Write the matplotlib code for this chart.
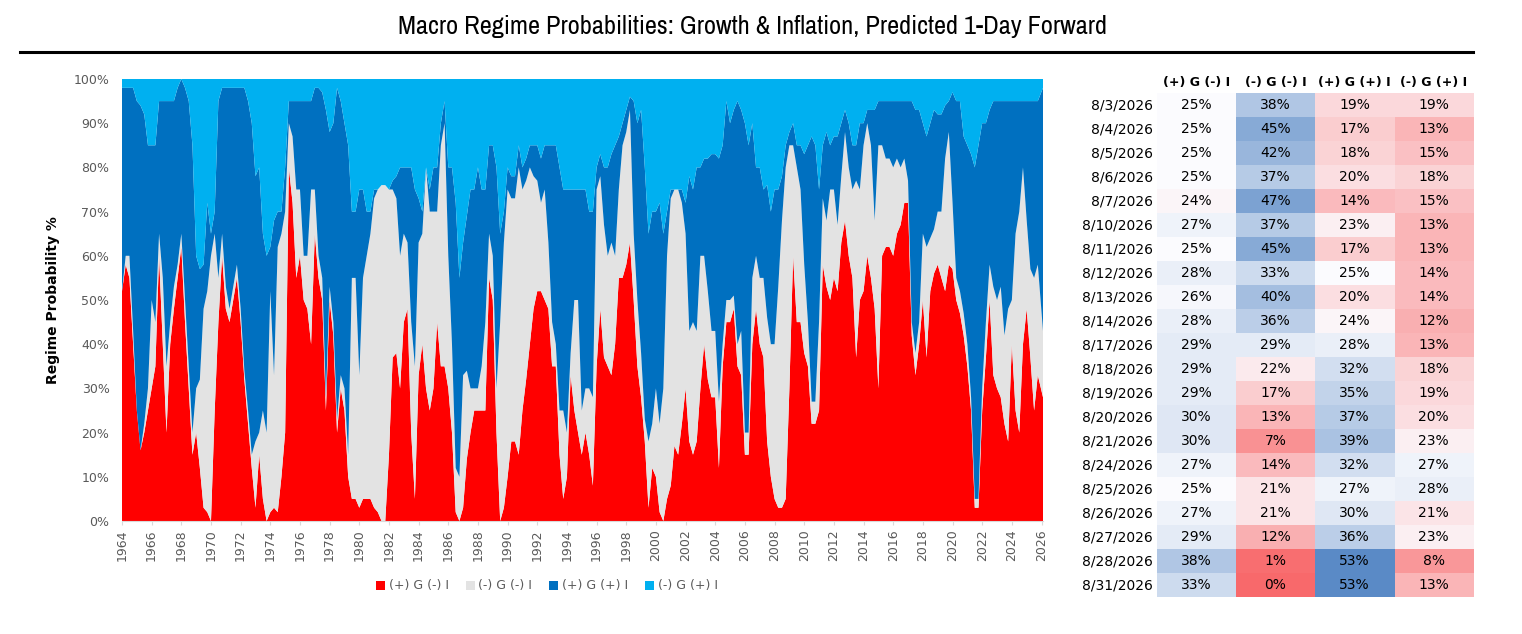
import numpy as np
import matplotlib
matplotlib.use('Agg')
import matplotlib.pyplot as plt
from matplotlib import font_manager
from matplotlib.colors import LinearSegmentedColormap, TwoSlopeNorm
from matplotlib.patches import Patch
from matplotlib.lines import Line2D

# regimes (stack order, bottom -> top)
regimes = ['(+) G (-) I', '(-) G (-) I', '(+) G (+) I', '(-) G (+) I']
regime_colors = ['#FF0000', '#E3E3E3', '#0070C0', '#00B0F0']

# quarterly readings of the regime probabilities (%), 1964Q1 .. 2025Q4 + last point
pos_g_neg_i = [
    52, 58, 55, 40,  # 1964
    25, 16, 20, 25,  # 1965
    30, 35, 60, 40,  # 1966
    20, 40, 48, 55,  # 1967
    62, 45, 30, 15,  # 1968
    20, 12, 3, 2,    # 1969
    0, 25, 45, 60,   # 1970
    48, 45, 50, 55,  # 1971
    45, 32, 22, 12,  # 1972
    3, 15, 5, 0,     # 1973
    2, 3, 2, 10,     # 1974
    20, 80, 72, 55,  # 1975
    60, 50, 48, 40,  # 1976
    65, 55, 50, 25,  # 1977
    50, 42, 20, 30,  # 1978
    25, 10, 5, 5,    # 1979
    3, 5, 5, 5,      # 1980
    3, 2, 0, 0,      # 1981
    15, 37, 38, 30,  # 1982
    45, 48, 20, 5,   # 1983
    33, 40, 30, 25,  # 1984
    30, 45, 35, 35,  # 1985
    30, 20, 2, 0,    # 1986
    3, 14, 20, 25,   # 1987
    25, 25, 25, 55,  # 1988
    50, 20, 0, 3,    # 1989
    10, 18, 18, 15,  # 1990
    25, 32, 40, 48,  # 1991
    52, 52, 50, 48,  # 1992
    35, 35, 15, 5,   # 1993
    10, 33, 25, 20,  # 1994
    15, 20, 15, 8,   # 1995
    35, 48, 37, 35,  # 1996
    33, 40, 55, 55,  # 1997
    58, 63, 50, 35,  # 1998
    28, 18, 3, 12,   # 1999
    10, 2, 0, 5,     # 2000
    8, 17, 15, 22,   # 2001
    30, 18, 15, 18,  # 2002
    30, 40, 32, 28,  # 2003
    28, 12, 35, 45,  # 2004
    45, 48, 35, 33,  # 2005
    15, 15, 40, 48,  # 2006
    40, 37, 18, 10,  # 2007
    5, 3, 3, 5,      # 2008
    30, 60, 45, 45,  # 2009
    38, 35, 22, 22,  # 2010
    25, 58, 53, 50,  # 2011
    55, 52, 63, 68,  # 2012
    60, 55, 37, 50,  # 2013
    52, 60, 55, 48,  # 2014
    30, 60, 62, 62,  # 2015
    60, 65, 67, 72,  # 2016
    72, 42, 33, 40,  # 2017
    50, 37, 52, 56,  # 2018
    58, 55, 52, 58,  # 2019
    57, 50, 47, 42,  # 2020
    35, 25, 3, 3,    # 2021
    25, 37, 50, 33,  # 2022
    30, 28, 22, 18,  # 2023
    40, 25, 20, 40,  # 2024
    48, 37, 25, 33,  # 2025
    28,              # 2026
]

neg_g_neg_i = [
    0, 2, 5, 3,      # 1964
    0, 0, 2, 5,      # 1965
    20, 10, 5, 15,   # 1966
    15, 5, 5, 3,     # 1967
    3, 5, 5, 5,      # 1968
    10, 20, 45, 50,  # 1969
    60, 40, 10, 5,   # 1970
    5, 3, 3, 3,      # 1971
    3, 2, 3, 3,      # 1972
    15, 5, 20, 20,   # 1973
    50, 30, 60, 55,  # 1974
    50, 10, 15, 20,  # 1975
    15, 10, 12, 35,  # 1976
    10, 5, 5, 3,     # 1977
    3, 3, 3, 3,      # 1978
    5, 5, 50, 50,    # 1979
    30, 50, 55, 60,  # 1980
    70, 73, 76, 76,  # 1981
    60, 38, 35, 30,  # 1982
    20, 15, 25, 30,  # 1983
    30, 25, 50, 45,  # 1984
    40, 25, 50, 55,  # 1985
    30, 20, 10, 10,  # 1986
    30, 20, 10, 5,   # 1987
    5, 10, 20, 10,   # 1988
    10, 10, 45, 60,  # 1989
    65, 55, 55, 65,  # 1990
    50, 45, 40, 30,  # 1991
    25, 20, 25, 15,  # 1992
    10, 5, 10, 20,   # 1993
    10, 5, 25, 30,   # 1994
    10, 10, 15, 20,  # 1995
    40, 30, 30, 25,  # 1996
    30, 20, 20, 30,  # 1997
    30, 30, 15, 15,  # 1998
    10, 5, 15, 10,   # 1999
    20, 20, 30, 55,  # 2000
    65, 58, 60, 50,  # 2001
    35, 25, 30, 25,  # 2002
    30, 20, 20, 15,  # 2003
    15, 15, 5, 5,    # 2004
    5, 3, 5, 10,     # 2005
    5, 5, 15, 12,    # 2006
    15, 18, 28, 30,  # 2007
    35, 50, 65, 75,  # 2008
    55, 25, 35, 30,  # 2009
    20, 10, 5, 5,    # 2010
    20, 15, 15, 25,  # 2011
    20, 15, 15, 20,  # 2012
    20, 20, 40, 25,  # 2013
    33, 30, 30, 20,  # 2014
    55, 25, 20, 20,  # 2015
    20, 17, 13, 10,  # 2016
    5, 3, 5, 5,      # 2017
    15, 25, 12, 10,  # 2018
    12, 15, 30, 30,  # 2019
    15, 5, 5, 5,     # 2020
    5, 3, 2, 2,      # 2021
    5, 8, 8, 20,     # 2022
    20, 25, 20, 30,  # 2023
    10, 40, 50, 40,  # 2024
    20, 20, 30, 25,  # 2025
    15,              # 2026
]

pos_g_pos_i = [
    46, 38, 38, 55,  # 1964
    70, 78, 70, 55,  # 1965
    35, 40, 30, 40,  # 1966
    60, 50, 42, 40,  # 1967
    35, 48, 60, 65,  # 1968
    30, 25, 10, 20,  # 1969
    5, 5, 40, 33,    # 1970
    45, 50, 45, 40,  # 1971
    50, 64, 70, 75,  # 1972
    60, 60, 40, 40,  # 1973
    10, 35, 8, 5,    # 1974
    10, 5, 8, 20,    # 1975
    20, 35, 35, 20,  # 1976
    23, 38, 42, 65,  # 1977
    35, 45, 75, 62,  # 1978
    60, 70, 15, 15,  # 1979
    42, 20, 10, 5,   # 1980
    2, 0, 0, 0,      # 1981
    0, 2, 5, 20,     # 1982
    15, 17, 35, 40,  # 1983
    10, 5, 0, 5,     # 1984
    10, 10, 5, 5,    # 1985
    20, 40, 60, 45,  # 1986
    30, 35, 45, 45,  # 1987
    50, 40, 30, 20,  # 1988
    25, 50, 20, 7,   # 1989
    5, 5, 5, 5,      # 1990
    5, 5, 5, 7,      # 1991
    8, 10, 10, 22,   # 1992
    40, 45, 55, 50,  # 1993
    55, 37, 25, 25,  # 1994
    50, 45, 40, 42,  # 1995
    5, 5, 13, 20,    # 1996
    20, 25, 12, 5,   # 1997
    5, 3, 30, 40,    # 1998
    55, 57, 47, 48,  # 1999
    40, 50, 35, 10,  # 2000
    2, 0, 0, 3,      # 2001
    7, 35, 30, 37,   # 2002
    20, 22, 30, 40,  # 2003
    40, 55, 45, 45,  # 2004
    40, 42, 55, 50,  # 2005
    70, 65, 35, 20,  # 2006
    25, 20, 30, 30,  # 2007
    35, 22, 10, 5,   # 2008
    3, 5, 5, 10,     # 2009
    25, 40, 60, 58,  # 2010
    30, 12, 20, 10,  # 2011
    12, 20, 12, 5,   # 2012
    10, 10, 8, 15,   # 2013
    5, 3, 8, 25,     # 2014
    10, 10, 13, 13,  # 2015
    15, 13, 15, 13,  # 2016
    18, 50, 55, 48,  # 2017
    25, 25, 26, 27,  # 2018
    22, 22, 12, 7,   # 2019
    25, 40, 43, 40,  # 2020
    45, 55, 75, 80,  # 2021
    60, 45, 35, 42,  # 2022
    45, 42, 53, 47,  # 2023
    45, 30, 25, 15,  # 2024
    27, 38, 40, 37,  # 2025
    55,              # 2026
]

# time axis: one reading per quarter, last reading at the end of the sample
dates = list(np.arange(1964, 2026, 0.25)) + [2026.1]

# table: latest daily predictions
table_dates = ['8/3/2026', '8/4/2026', '8/5/2026', '8/6/2026', '8/7/2026',
               '8/10/2026', '8/11/2026', '8/12/2026', '8/13/2026', '8/14/2026',
               '8/17/2026', '8/18/2026', '8/19/2026', '8/20/2026', '8/21/2026',
               '8/24/2026', '8/25/2026', '8/26/2026', '8/27/2026', '8/28/2026',
               '8/31/2026']
tbl_pg_ni = [25, 25, 25, 25, 24, 27, 25, 28, 26, 28, 29, 29, 29, 30, 30, 27, 25, 27, 29, 38, 33]
tbl_ng_ni = [38, 45, 42, 37, 47, 37, 45, 33, 40, 36, 29, 22, 17, 13, 7, 14, 21, 21, 12, 1, 0]
tbl_pg_pi = [19, 17, 18, 20, 14, 23, 17, 25, 20, 24, 28, 32, 35, 37, 39, 32, 27, 30, 36, 53, 53]
tbl_ng_pi = [19, 13, 15, 18, 15, 13, 13, 14, 14, 12, 13, 18, 19, 20, 23, 27, 28, 21, 23, 8, 13]

title = 'Macro Regime Probabilities: Growth & Inflation, Predicted 1-Day Forward'

# -------------------------------------------------------------------------
red = np.array(pos_g_neg_i, dtype=float)
grey = np.array(neg_g_neg_i, dtype=float)
dblue = np.array(pos_g_pos_i, dtype=float)
assert len(red) == len(grey) == len(dblue) == len(dates)
lblue = np.clip(100 - red - grey - dblue, 0, None)   # probabilities add to 100%

W, H = 1522, 634
fig = plt.figure(figsize=(W / 100, H / 100), dpi=100)

# title + rule (use a narrow face if the machine has one)
names = sorted({f.name for f in font_manager.fontManager.ttflist})
narrow = [n for n in names if 'Condensed' in n or 'Narrow' in n]
if narrow:
    fig.text(753 / W, (H - 26) / H, title, family=narrow[0], fontsize=19, fontweight='bold',
             ha='center', va='center')
else:
    fig.text(753 / W, (H - 26) / H, title, family='DejaVu Sans', fontsize=11.3, fontweight='bold',
             ha='center', va='center')
fig.add_artist(Line2D([20 / W, 1473 / W], [(H - 52) / H] * 2, color='black', lw=2.2))

# stacked area chart
ax = fig.add_axes([122 / W, (H - 521) / H, 921 / W, 442 / H])
ax.stackplot(dates, red, grey, dblue, lblue, colors=regime_colors, linewidth=0)
ax.set_xlim(1964, 2026.1)
ax.set_ylim(0, 100)

ax.set_xticks(range(1964, 2027, 2))
ax.set_xticklabels([str(y) for y in range(1964, 2027, 2)], rotation=90, fontsize=9, color='#595959')
ax.set_yticks(range(0, 101, 10))
ax.set_yticklabels([f'{v}%' for v in range(0, 101, 10)], fontsize=9, color='#595959')
ax.tick_params(axis='x', length=3, color='#D9D9D9', pad=3)
ax.tick_params(axis='y', length=0, pad=9)
for s in ['top', 'right', 'left']:
    ax.spines[s].set_visible(False)
ax.spines['bottom'].set_color('#D9D9D9')
ax.set_ylabel('Regime Probability %', fontsize=10, fontweight='bold')
ax.yaxis.set_label_coords(-0.0673, 0.5)

handles = [Patch(facecolor=c, edgecolor='none') for c in regime_colors]
fig.legend(handles, regimes, loc='center', bbox_to_anchor=(547 / W, (H - 586) / H), ncol=4,
           frameon=False, fontsize=9, labelcolor='#595959', handlelength=0.72, handleheight=0.72,
           handletextpad=0.3, columnspacing=1.36)

# heat-map table
cells = np.array([tbl_pg_ni, tbl_ng_ni, tbl_pg_pi, tbl_ng_pi]).T
cmap = LinearSegmentedColormap.from_list('rwb', ['#F8696B', '#FCFCFF', '#5A8AC6'])
norm = TwoSlopeNorm(vmin=cells.min(), vcenter=25, vmax=cells.max())

tax = fig.add_axes([1157 / W, (H - 597.3) / H, 316 / W, 504 / H])
tax.imshow(cells, cmap=cmap, norm=norm, aspect='auto', extent=(0, 4, len(table_dates), 0),
           interpolation='nearest')
tax.set_xlim(0, 4)
tax.set_ylim(len(table_dates), 0)
tax.axis('off')

for j, name in enumerate(regimes):
    tax.text(j + 0.5, -0.45, name, ha='center', va='center', fontsize=9, fontweight='bold')
for i, d in enumerate(table_dates):
    tax.text(-0.05, i + 0.5, d, ha='right', va='center', fontsize=10)
    for j in range(4):
        tax.text(j + 0.5, i + 0.5, f'{cells[i, j]}%', ha='center', va='center', fontsize=10)

fig.savefig('out.png', dpi=100)
